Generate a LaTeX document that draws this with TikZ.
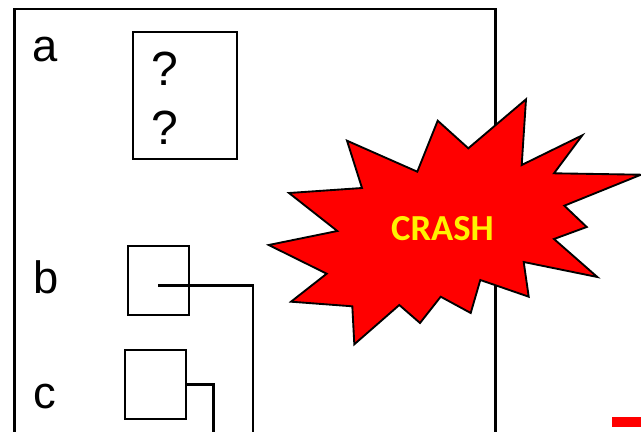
\documentclass[tikz,border=0pt]{standalone}
\usepackage{fontspec}
\setmainfont{Liberation Sans}
\newfontfamily\crashfont{Carlito}[Scale=1]
\tikzset{
  px/.style={x=0.75pt,y=-0.75pt},
  outerbox/.style={draw=black,line width=1.6pt,fill=none},
  cell/.style={draw=black,line width=1.5pt,fill=white,inner sep=0pt,minimum width=#1},
  lbl/.style={font=\fontsize{34}{34}\selectfont,inner sep=0pt,anchor=base},
  qmark/.style={font=\fontsize{36}{36}\selectfont,inner sep=0pt,anchor=base},
  link/.style={draw=black,line join=miter,line width=2.2pt},
  burst/.style={draw=black,fill=red,line width=1.4pt,line join=miter},
}
\begin{document}
\begin{tikzpicture}[px]
\useasboundingbox (0,0) rectangle (641,431);
\clip (0,0) rectangle (641,431);
\fill[white] (0,0) rectangle (641,431);
\draw[outerbox] (14.5,445) -- (14.5,9) -- (495.5,9) -- (495.5,445);
\node[lbl] (la) at (45,62) {a};
\node[lbl] (lb) at (46,293) {b};
\node[lbl] (lc) at (44.5,408) {c};
\node[cell=78pt,minimum height=95.25pt] (boxa) at (185,95.5) {};
\node[qmark] (q1) at (164.5,86) {?};
\node[qmark] (q2) at (164.5,144) {?};
\node[cell=46pt,minimum height=51.75pt] (boxb) at (158.2,280) {};
\node[cell=46pt,minimum height=51.75pt] (boxc) at (155.5,384) {};
\coordinate (bend1) at (253,285.7);
\coordinate (end1) at (253,445);
\coordinate (bend2) at (213.5,384.2);
\coordinate (end2) at (213.5,445);
\coordinate (start1) at (158,285.7);
\draw[link] (start1) -- (bend1) -- (end1);
\draw[link,line width=2pt] (boxc.east |- bend2) -- (bend2) -- (end2);
\draw[burst] (526,99.3) -- (521.7,165) -- (582.3,135.3) -- (554,173.3) -- (641,174.7)
 -- (564.3,205.7) -- (586.7,227) -- (554,239) -- (597.3,277) -- (523.7,262)
 -- (528.7,296.7) -- (480.3,280) -- (470.7,313) -- (440.7,296.7) -- (420,323)
 -- (399.3,305) -- (354.3,344.3) -- (352.3,306.3) -- (291,301.7) -- (326.7,273.7)
 -- (268.7,245) -- (337.3,231) -- (289,193) -- (362,188) -- (347,140.7)
 -- (417.3,171.7) -- (437.7,120.7) -- (468.3,148.3) -- cycle;
\node[font=\crashfont\bfseries\fontsize{27.5}{27.5}\selectfont,text=yellow,inner sep=0pt,anchor=base] (crash) at (442.5,240) {CRASH};
\fill[red] (612,417) rectangle (641,427);
\end{tikzpicture}
\end{document}
